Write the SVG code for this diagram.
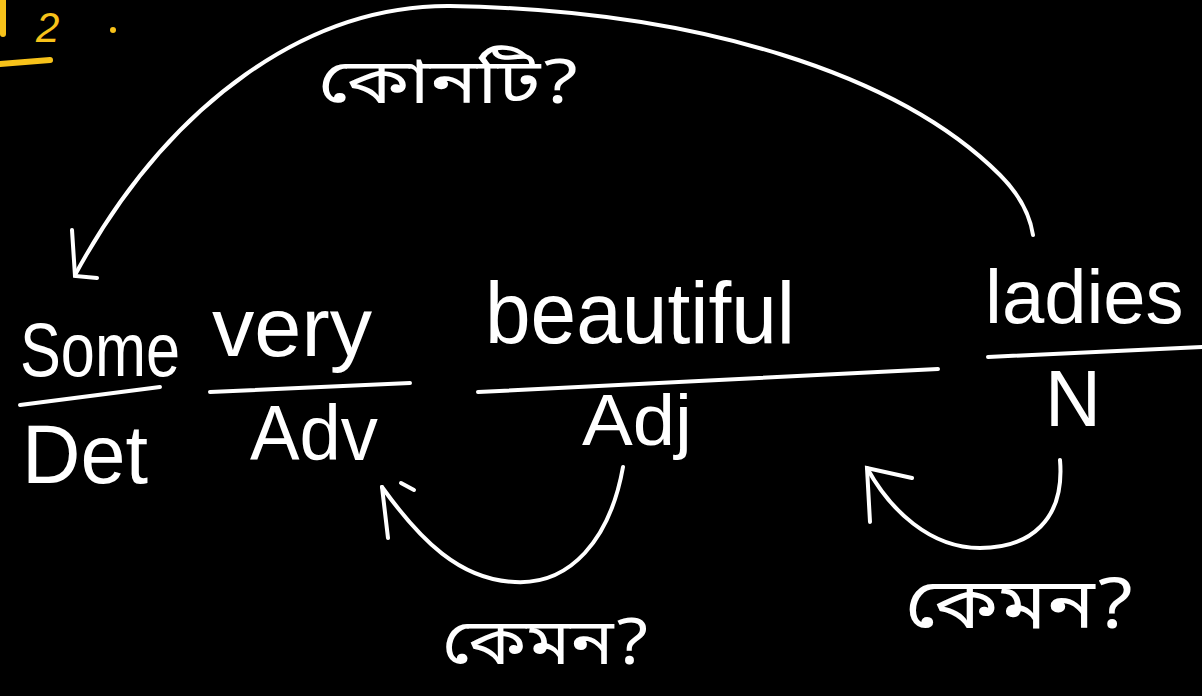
<svg xmlns="http://www.w3.org/2000/svg" width="1202" height="696" viewBox="0 0 1202 696">
<style>
.bg{fill:#000}
.w{fill:#fff;font-family:"Liberation Sans","Noto Sans",sans-serif}
.bn{fill:#fff;font-family:"Noto Sans Bengali","Noto Sans","Liberation Sans",sans-serif}
.ln{stroke:#fff;stroke-width:4;stroke-linecap:round;fill:none}
.y{stroke:#f7c21a;stroke-width:6;stroke-linecap:round;fill:none}
.yt{fill:#f7c21a;font-family:"Liberation Sans",sans-serif}
</style>
<rect class="bg" x="0" y="0" width="1202" height="696"/>
<g id="corner">
<line class="y" x1="3" y1="0" x2="3" y2="34"/>
<text class="yt" x="36" y="42" font-size="42" font-style="italic">2</text>
<circle cx="113" cy="30" r="3" fill="#f7c21a"/>
<line class="y" x1="0" y1="64" x2="50" y2="60"/>
</g>
<g id="node-some">
<text class="w" x="20" y="376" font-size="76" textLength="160" lengthAdjust="spacingAndGlyphs">Some</text>
<line class="ln" x1="20" y1="405" x2="160" y2="387"/>
<text class="w" x="22" y="483" font-size="84" textLength="126" lengthAdjust="spacingAndGlyphs">Det</text>
</g>
<g id="node-very">
<text class="w" x="212" y="356" font-size="84" textLength="160" lengthAdjust="spacingAndGlyphs">very</text>
<line class="ln" x1="210" y1="392" x2="410" y2="383"/>
<text class="w" x="250" y="460" font-size="78" textLength="128" lengthAdjust="spacingAndGlyphs">Adv</text>
</g>
<g id="node-beautiful">
<text class="w" x="485" y="343" font-size="88" textLength="310" lengthAdjust="spacingAndGlyphs">beautiful</text>
<line class="ln" x1="478" y1="392" x2="938" y2="369"/>
<text class="w" x="582" y="445" font-size="72" textLength="110" lengthAdjust="spacingAndGlyphs">Adj</text>
</g>
<g id="node-ladies">
<text class="w" x="985" y="323" font-size="76">ladies</text>
<line class="ln" x1="988" y1="357" x2="1202" y2="347"/>
<text class="w" x="1045" y="426" font-size="80" textLength="56" lengthAdjust="spacingAndGlyphs">N</text>
</g>
<g id="connectors">
<path class="ln" d="M1033,235 C1030,215 1020,195 1000,175 C900,75 700,10 450,6 C310,5 170,100 75,275"/>
<path class="ln" d="M72,230 L75,276 L97,278"/>
<path class="ln" d="M623,467 C610,540 570,585 515,582 C460,580 420,540 382,487"/>
<path class="ln" d="M388,538 L382,487"/>
<path class="ln" d="M401,483 L414,490"/>
<path class="ln" d="M1060,460 C1065,520 1030,548 980,548 C930,548 890,510 867,468"/>
<path class="ln" d="M870,522 L867,468 L912,478"/>
</g>
<g id="labels">
<text class="bn" x="318" y="103" font-size="62" textLength="262" lengthAdjust="spacingAndGlyphs">কোনটি?</text>
<text class="bn" x="442" y="664" font-size="64" textLength="208" lengthAdjust="spacingAndGlyphs">কেমন?</text>
<text class="bn" x="905" y="628" font-size="70" textLength="230" lengthAdjust="spacingAndGlyphs">কেমন?</text>
</g>
</svg>
